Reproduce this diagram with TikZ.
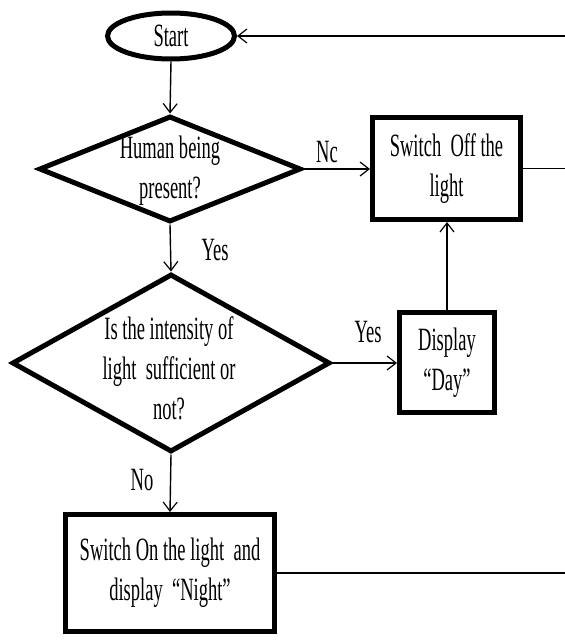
\documentclass[tikz,border=0pt]{standalone}
\usepackage{fontspec}
\setmainfont{Liberation Serif}[FakeStretch=0.57]
\usetikzlibrary{shapes.geometric,arrows.meta}
\begin{document}
\begin{tikzpicture}[x=1pt,y=-1pt,
  font=\fontsize{32.5}{40}\selectfont,
  thickbox/.style={draw, line width=5pt, inner sep=0pt, align=center, rectangle},
  thickdia/.style={draw, line width=5pt, inner sep=0pt, diamond},
  txt/.style={inner sep=0pt, align=center},
  lbl/.style={inner sep=0pt},
  conn/.style={line width=1.4pt},
  arr/.style={conn, -{Straight Barb[length=9pt,width=14pt,line width=1.2pt]}}]
\useasboundingbox (0,0) rectangle (565,640);

% shapes
\node[draw, ellipse, line width=5pt, inner sep=0pt, minimum width=127, minimum height=46] (start) at (171,36) {Start};
\node[thickdia, minimum width=262, minimum height=106] (d1) at (170,169) {};
\node[txt] (d1t) at (170,171) {Human being\\present?};
\node[thickbox, minimum width=148, minimum height=102] (off) at (446.5,168.5) {Switch\ \ Off the\\light};
\node[thickdia, minimum width=318, minimum height=178] (d2) at (171,363) {};
\node[txt] (d2t) at (169,368) {Is the intensity of\\light\ \ sufficient or\\not?};
\node[thickbox, minimum width=95, minimum height=100] (day) at (447,362.5) {Display\\``Day''};
\node[thickbox, minimum width=209, minimum height=117] (on) at (170,573) {Switch On the light\ \ and\\display\ \ ``Night''};

% free ends at the right edge
\coordinate (e1) at (565,36);
\coordinate (e2) at (565,168.5);
\coordinate (e3) at (565,573);

% connectors
\draw[arr] (e1) -- (start.east);
\draw[arr] (start.south) -- (d1.north);
\draw[arr] (d1.east) -- (off.west |- d1.east);
\draw[conn] (off.east) -- (e2);
\draw[arr] (day.north) -- (day.north |- off.south);
\draw[arr] (d1.south) -- (d2.north);
\draw[arr] (d2.east) -- (day.west |- d2.east);
\draw[arr] (d2.south) -- (on.north);
\draw[conn] (on.east) -- (e3);

% labels
\node[lbl] (lnc) at (327,152) {Nc};
\node[lbl] (lyes1) at (215,250) {Yes};
\node[lbl] (lyes2) at (368,332) {Yes};
\node[lbl] (lno) at (142,480) {No};
\end{tikzpicture}
\end{document}
